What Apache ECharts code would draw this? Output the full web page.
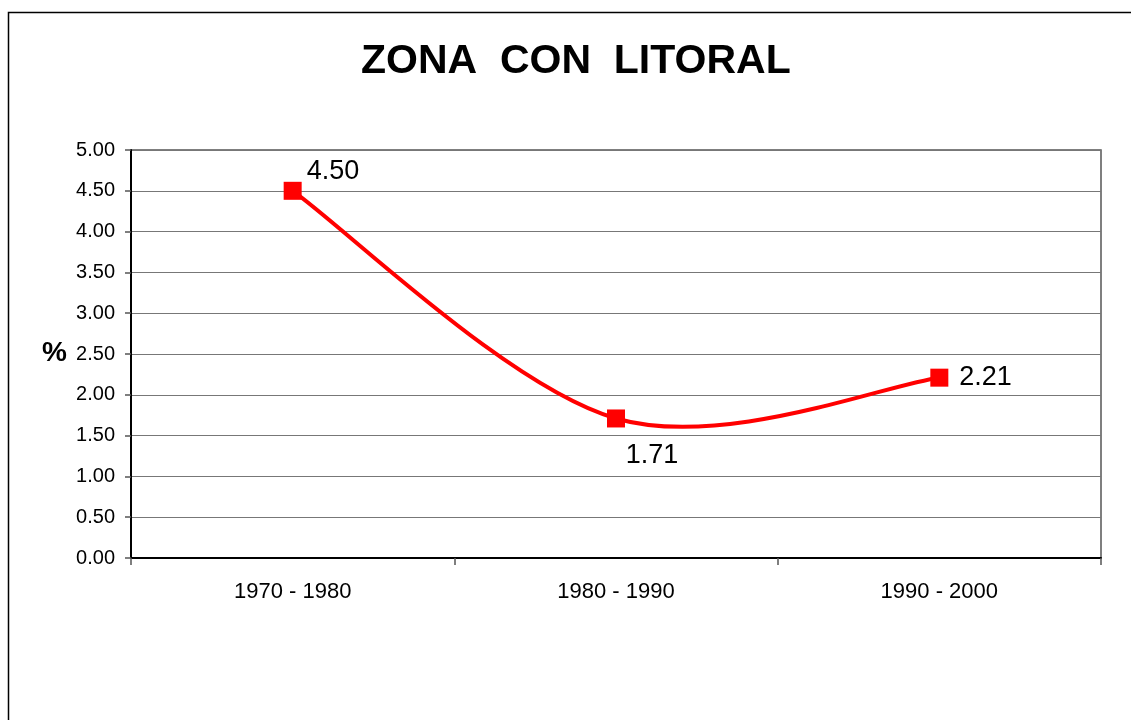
<!DOCTYPE html>
<html>
<head>
<meta charset="utf-8">
<script src="https://cdn.jsdelivr.net/npm/echarts@6/dist/echarts.min.js"></script>
<style>
  html, body { margin: 0; padding: 0; background: #fff; }
  #chart { width: 1131px; height: 720px; }
</style>
</head>
<body>
<div id="chart"></div>
<script>
const periods = ["1970 - 1980", "1980 - 1990", "1990 - 2000"];
const rates = [4.50, 1.71, 2.21];
const labelPlace = [
  { position: "right", offset: [0, -19] },
  { position: "bottom", offset: [36, 10] },
  { position: "right", offset: [6, 0] },
];

const chart = echarts.init(document.getElementById("chart"));

// spreadsheet-style smoothing: control points from neighbouring points
function curveSegment(params, api) {
  const i = params.dataIndex;
  if (i >= rates.length - 1) return null;
  const clamp = k => Math.max(0, Math.min(rates.length - 1, k));
  const pt = k => api.coord([clamp(k), rates[clamp(k)]]);
  const p0 = pt(i - 1), p1 = pt(i), p2 = pt(i + 1), p3 = pt(i + 2);
  const t = 1 / 6;
  return {
    type: "bezierCurve",
    shape: {
      x1: p1[0], y1: p1[1],
      x2: p2[0], y2: p2[1],
      cpx1: p1[0] + (p2[0] - p0[0]) * t, cpy1: p1[1] + (p2[1] - p0[1]) * t,
      cpx2: p2[0] - (p3[0] - p1[0]) * t, cpy2: p2[1] - (p3[1] - p1[1]) * t,
    },
    style: { fill: "none", stroke: "#ff0000", lineWidth: 4 },
  };
}

chart.setOption({
  backgroundColor: "#fff",
  animation: false,
  title: {
    text: "ZONA  CON  LITORAL",
    left: 356,
    top: 36,
    textStyle: { fontFamily: "Liberation Sans", fontSize: 41, fontWeight: "bold", color: "#000" },
  },
  graphic: [
    {
      type: "rect",
      shape: { x: 8.5, y: 12.5, width: 1140, height: 720 },
      style: { fill: "none", stroke: "#000", lineWidth: 1.5 },
      silent: true,
    },
    {
      type: "text",
      left: 42,
      top: 339,
      style: { text: "%", fontFamily: "Liberation Sans", fontSize: 28, fontWeight: "bold", fill: "#000" },
    },
  ],
  grid: {
    left: 131, right: 30, top: 150, bottom: 162,
    show: true, borderColor: "#555", borderWidth: 1.5,
  },
  xAxis: {
    type: "category",
    data: periods,
    boundaryGap: true,
    axisLine: { lineStyle: { color: "#000", width: 2 } },
    axisTick: { show: true, length: 7, lineStyle: { color: "#555", width: 1.5 } },
    axisLabel: { margin: 23, fontFamily: "Liberation Sans", fontSize: 22, color: "#000" },
    splitLine: { show: false },
  },
  yAxis: {
    type: "value",
    min: 0,
    max: 5,
    interval: 0.5,
    axisLine: { show: true, lineStyle: { color: "#000", width: 2 } },
    axisTick: { show: true, length: 6, lineStyle: { color: "#555", width: 1.5 } },
    axisLabel: {
      margin: 16,
      fontFamily: "Liberation Sans", fontSize: 20, color: "#000",
      formatter: v => v.toFixed(2),
    },
    splitLine: { lineStyle: { color: "#777", width: 1.2 } },
  },
  series: [
    {
      type: "custom",
      data: rates.map((v, i) => [i, v]),
      renderItem: curveSegment,
      z: 2,
      silent: true,
    },
    {
      type: "line",
      data: rates.map((v, i) => ({
        value: v,
        label: { show: true, position: labelPlace[i].position, offset: labelPlace[i].offset },
      })),
      symbol: "rect",
      symbolSize: 18,
      lineStyle: { width: 0, opacity: 0 },
      itemStyle: { color: "#ff0000" },
      z: 3,
      label: {
        show: true,
        distance: 5,
        fontFamily: "Liberation Sans",
        fontSize: 27,
        color: "#000",
        formatter: p => Number(p.value).toFixed(2),
      },
    },
  ],
});
</script>
</body>
</html>
